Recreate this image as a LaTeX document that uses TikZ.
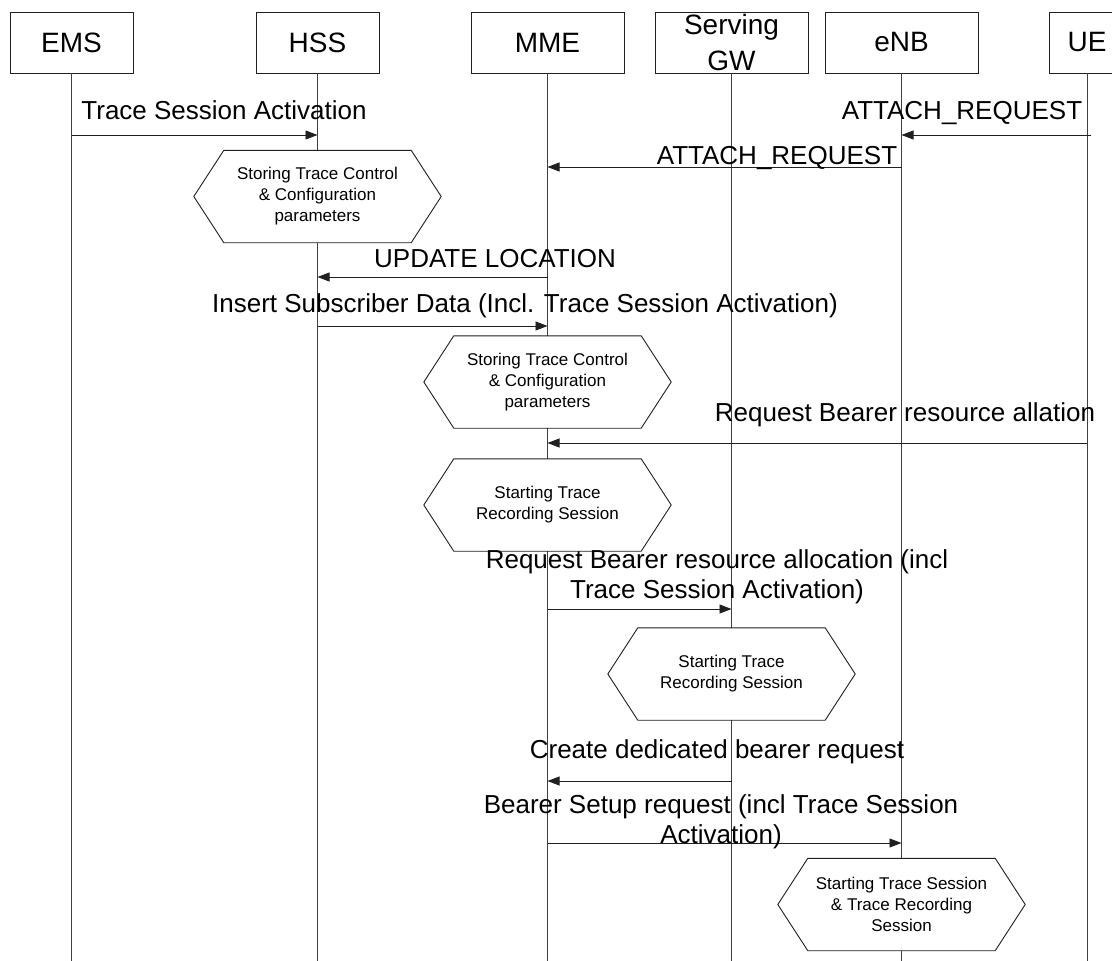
\documentclass[tikz,border=0pt]{standalone}
\usepackage{fontspec}
\setmainfont{Liberation Sans}
\usetikzlibrary{arrows.meta}
\definecolor{ink}{HTML}{202020}
\definecolor{lifecol}{HTML}{404040}

\begin{document}
\begin{tikzpicture}[x=1pt,y=-1pt,
  actor/.style={draw=ink, line width=0.9pt, minimum height=61pt, inner sep=0pt,
    font=\fontsize{28}{36}\selectfont, align=center},
  hexa/.style={fill=white, minimum width=247pt, minimum height=92pt, inner sep=0pt,
    align=center, font=\fontsize{17}{21}\selectfont},
  hexline/.style={draw=ink, line width=0.9pt},
  life/.style={draw=lifecol, line width=0.9pt},
  msg/.style={draw=ink, line width=0.9pt, -{Triangle[length=12pt,width=9pt]}},
  lbl/.style={font=\fontsize{26}{30}\selectfont, align=center, anchor=base, inner sep=0pt},
]
\clip (0,0) rectangle (1112,961);
\fill[white] (0,0) rectangle (1112,961);

% participants
\node[actor, minimum width=123pt] (ems) at (71.5,42.5) {EMS};
\node[actor, minimum width=123pt] (hss) at (317.5,42.5) {HSS};
\node[actor, minimum width=153pt] (mme) at (547.5,42.5) {MME};
\node[actor, minimum width=153pt] (sgw) at (731.5,42.5) {Serving\\GW};
\node[actor, minimum width=153pt] (enb) at (901.5,42.5) {eNB};
\node[actor, minimum width=76pt]  (ue)  at (1087,42.5) {UE};

% lifelines
\foreach \p in {ems,hss,mme,sgw,enb,ue}
  \draw[life] (\p.south) -- (\p.south |- 0,970);

% processing steps
\node[hexa] (h1) at (hss |- 0,196.5) {Storing Trace Control\\\& Configuration\\parameters};
\node[hexa] (h2) at (mme |- 0,382) {Storing Trace Control\\\& Configuration\\parameters};
\node[hexa] (h3) at (mme |- 0,505) {Starting Trace\\Recording Session};
\node[hexa] (h4) at (sgw |- 0,674) {Starting Trace\\Recording Session};
\node[hexa] (h5) at (enb |- 0,904.5) {Starting Trace Session\\\& Trace Recording\\Session};
\foreach \h in {h1,h2,h3,h4,h5}
  \draw[hexline] (\h.west) -- ([xshift=30pt]\h.north west) -- ([xshift=-30pt]\h.north east)
    -- (\h.east) -- ([xshift=-30pt]\h.south east) -- ([xshift=30pt]\h.south west) -- cycle;

% messages (label nodes are anchored at the baseline of their last line)
\draw[msg] (ems |- 0,135) -- (hss |- 0,135);
\node[lbl] (t1) at (224,119) {Trace Session Activation};

\draw[msg] ([xshift=4pt]ue.center |- 0,135) -- (enb |- 0,135);
\node[lbl] (t2) at (962,119) {ATTACH\_REQUEST};

\draw[msg] (enb |- 0,167) -- (mme |- 0,167);
\node[lbl] (t3) at (777,164) {ATTACH\_REQUEST};

\draw[msg] (mme |- 0,277) -- (hss |- 0,277);
\node[lbl] (t4) at (495,267) {UPDATE LOCATION};

\draw[msg] (hss |- 0,326) -- (mme |- 0,326);
\node[lbl] (t5) at (525,312) {Insert Subscriber Data (Incl. Trace Session Activation)};

\draw[msg] (ue |- 0,443) -- (mme |- 0,443);
\node[lbl] (t6) at (905,421) {Request Bearer resource allation};

\draw[msg] (mme |- 0,609) -- (sgw |- 0,609);
\node[lbl] (t7) at (717,598) {Request Bearer resource allocation (incl\\Trace Session Activation)};

\draw[msg] (sgw |- 0,781) -- (mme |- 0,781);
\node[lbl] (t8) at (717,758) {Create dedicated bearer request};

\draw[msg] (mme |- 0,843) -- (enb |- 0,843);
\node[lbl] (t9) at (721,843) {Bearer Setup request (incl Trace Session\\Activation)};
\end{tikzpicture}
\end{document}
